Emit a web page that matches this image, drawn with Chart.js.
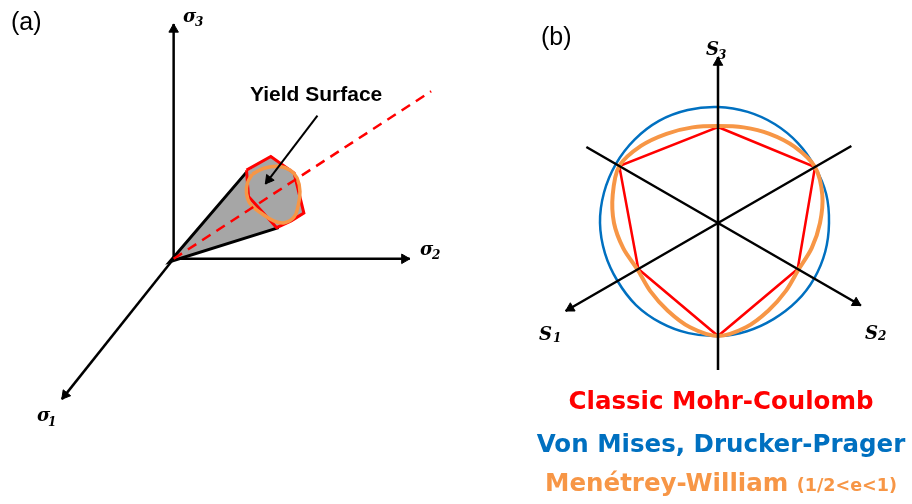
<!DOCTYPE html>
<html>
<head>
<meta charset="utf-8">
<script src="https://cdn.jsdelivr.net/npm/chart.js@4.4.0/dist/chart.umd.min.js"></script>
<style>
  html, body { margin: 0; padding: 0; background: #fff; width: 912px; height: 504px; overflow: hidden; }
  #wrap { position: relative; width: 912px; height: 504px; }
  canvas { position: absolute; }
  #stressSpace { left: 0; top: 0; }
  #deviatoric { left: 528px; top: 33px; }
  .t { position: absolute; white-space: nowrap; line-height: 1; }
  .panel { font: 25px "Liberation Sans", Arial, sans-serif; color: #000; }
  .sym { font: italic bold 18px "DejaVu Serif", serif; color: #000; }
  .sub { font: italic bold 12px "DejaVu Serif", serif; color: #000; }
  .callout { font: bold 21px "Liberation Sans", Arial, sans-serif; color: #000; }
  .legend { left: 521px; width: 400px; text-align: center; font: bold 24.5px "DejaVu Sans", sans-serif; }
  .legend small { font-size: 17.5px; }
</style>
</head>
<body>
<div id="wrap">
  <canvas id="stressSpace" width="460" height="504"></canvas>
  <canvas id="deviatoric" width="380" height="380"></canvas>

  <div class="t panel" style="left:11px; top:7px;">(a)</div>
  <div class="t panel" style="left:541px; top:22px;">(b)</div>

  <div class="t sym" style="left:183px; top:5px;">σ</div><div class="t sub" style="left:195px; top:15px;">3</div>
  <div class="t sym" style="left:420px; top:238px;">σ</div><div class="t sub" style="left:432px; top:248px;">2</div>
  <div class="t sym" style="left:37px; top:404px;">σ</div><div class="t sub" style="left:48px; top:415px;">1</div>
  <div class="t callout" style="left:250px; top:82px;">Yield Surface</div>

  <div class="t sym" style="left:706px; top:38px;">S</div><div class="t sub" style="left:718px; top:48px;">3</div>
  <div class="t sym" style="left:865px; top:322px;">S</div><div class="t sub" style="left:878px; top:329px;">2</div>
  <div class="t sym" style="left:539px; top:323px;">S</div><div class="t sub" style="left:553px; top:331px;">1</div>

  <div class="t legend" style="top:386px; color:#ff0000;">Classic Mohr-Coulomb</div>
  <div class="t legend" style="top:429px; color:#0070c0;">Von Mises, Drucker-Prager</div>
  <div class="t legend" style="top:468px; color:#f79646;">Menétrey-William <small>(1/2&lt;e&lt;1)</small></div>
</div>

<script>
// ---- (a) principal stress space, drawn in the page plane (origin at the axes' crossing, y up) ----
const ORIGIN = [0, 0];
const SIGMA1_TIP = [-115, -144];
const SIGMA2_TIP = [243, 0];
const SIGMA3_TIP = [0, 241];
const HYDROSTATIC_AXIS = [[0, 0], [265, 172]];
const CONE_EDGES = [[75, 89], [-4, -3], [108, 32]];
const CONE_OUTLINE = [[-4, -3], [75, 89], [100, 105], [124, 88], [134, 47], [121, 39], [106, 32], [-4, -3]];
const MC_SECTION = [[75, 91], [100, 105], [124, 88], [134, 47], [121, 39], [106, 32], [77, 64], [75, 91]];
const MW_SECTION = [[81, 87], [93, 93], [108, 95], [120, 91], [127, 83], [130, 69], [128, 54], [124, 43],
                    [114, 37], [103, 39], [90, 47], [79, 56], [75, 67], [76, 78], [81, 87]];
const POINTER = [[148, 147], [94.5, 77]];

// ---- (b) deviatoric plane: radius per direction, clockwise from S3 in 15° steps ----
const DIRECTION_DEG = [0, 15, 30, 45, 60, 75, 90, 105, 120, 135, 150, 165,
                       180, 195, 210, 225, 240, 255, 270, 285, 300, 315, 330, 345];
const MOHR_COULOMB = [96, null, null, null, 112, null, null, null, 92, null, null, null,
                      113, null, null, null, 92, null, null, null, 114, null, null, null];
const VON_MISES = [116, 115, 114, 113, 112, 112, 111, 111, 111, 111, 111, 112,
                   113, 114, 115, 116, 116, 117, 118, 118, 118, 118, 118, 117];
const MENETREY_WILLAM = [97, 99, 103, 108, 112, 108, 102, 97, 93, 96, 101, 108,
                         113, 108, 101, 96, 93, 98, 104, 109, 114, 109, 103, 99];
// spoke lengths, clockwise from top: S3, -S1, S2, -S3, S1, -S2
const AXIS_SPOKES = [166, 154, 165, 147, 176, 152];
const ARROWED_SPOKES = [0, 2, 4];

const BLACK = '#000000', RED = '#ff0000', BLUE = '#0070c0', ORANGE = '#f79646', GREY = '#a6a6a6';
const HEAD = 5.5;

const xy = p => ({x: p[0], y: p[1]});

// triangle head whose tip sits on the end of the segment
function head(from, to) {
  const dx = to[0] - from[0], dy = to[1] - from[1], len = Math.hypot(dx, dy);
  return {x: to[0] - dx / len * HEAD, y: to[1] - dy / len * HEAD, rot: Math.atan2(dx, dy) * 180 / Math.PI};
}

const heads = [head(ORIGIN, SIGMA1_TIP), head(ORIGIN, SIGMA2_TIP), head(ORIGIN, SIGMA3_TIP), head(POINTER[0], POINTER[1])];

const line = (points, color, width, order, extra) => Object.assign({
  data: points.map(xy), showLine: true, borderColor: color, borderWidth: width,
  pointRadius: 0, order: order, clip: false, fill: false
}, extra || {});

new Chart(document.getElementById('stressSpace'), {
  type: 'scatter',
  data: {
    datasets: [
      line(POINTER, BLACK, 2, 0),
      Object.assign(line([], BLACK, 1, 0), {
        data: heads.map(h => ({x: h.x, y: h.y})), showLine: false,
        pointStyle: 'triangle', pointRadius: HEAD, pointBackgroundColor: BLACK,
        pointBorderColor: BLACK, pointBorderWidth: 1, pointRotation: heads.map(h => h.rot)
      }),
      line(HYDROSTATIC_AXIS, RED, 2.5, 1, {borderDash: [10, 7]}),
      line(MW_SECTION, ORANGE, 3.5, 2, {tension: 0.4}),
      line(MC_SECTION, RED, 3, 3),
      line(CONE_EDGES, BLACK, 3, 4),
      line(CONE_OUTLINE, GREY, 0, 5, {fill: 'shape', backgroundColor: GREY}),
      line([ORIGIN, SIGMA1_TIP], BLACK, 2.5, 6),
      line([ORIGIN, SIGMA2_TIP], BLACK, 2.5, 6),
      line([ORIGIN, SIGMA3_TIP], BLACK, 2.5, 6)
    ]
  },
  options: {
    responsive: false, animation: false, events: [],
    layout: {padding: 0},
    scales: {
      x: {type: 'linear', min: -172, max: 288, display: false},
      y: {type: 'linear', min: -245, max: 259, display: false}
    },
    plugins: {legend: {display: false}, tooltip: {enabled: false}}
  }
});

// spokes: each runs from its tip to the centre (a zero radius on the next direction)
const spokeData = DIRECTION_DEG.map(() => null);
AXIS_SPOKES.forEach((len, k) => { spokeData[k * 4] = len; spokeData[k * 4 + 1] = 0; });
const arrowData = DIRECTION_DEG.map(() => null);
ARROWED_SPOKES.forEach(k => { arrowData[k * 4] = AXIS_SPOKES[k] - HEAD; });

new Chart(document.getElementById('deviatoric'), {
  type: 'radar',
  data: {
    labels: DIRECTION_DEG.map(d => d + '°'),
    datasets: [
      {label: 'axes', data: spokeData, borderColor: BLACK, borderWidth: 2.5, pointRadius: 0, tension: 0, order: 0, fill: false},
      {label: 'arrows', data: arrowData, showLine: false, pointStyle: 'triangle', pointRadius: HEAD,
       pointBackgroundColor: BLACK, pointBorderColor: BLACK, pointBorderWidth: 1,
       pointRotation: ctx => DIRECTION_DEG[ctx.dataIndex], order: 0},
      {label: 'Menétrey-William', data: MENETREY_WILLAM, borderColor: ORANGE, borderWidth: 4, pointRadius: 0, tension: 0.3, order: 1, fill: false},
      {label: 'Classic Mohr-Coulomb', data: MOHR_COULOMB, borderColor: RED, borderWidth: 2.5, pointRadius: 0, spanGaps: true, tension: 0, order: 2, fill: false},
      {label: 'Von Mises, Drucker-Prager', data: VON_MISES, borderColor: BLUE, borderWidth: 2.5, pointRadius: 0, tension: 0.34, order: 3, fill: false}
    ]
  },
  options: {
    responsive: false, animation: false, events: [],
    layout: {padding: 0},
    scales: {
      r: {
        min: 0, max: 190,
        ticks: {display: false},
        grid: {display: false},
        angleLines: {display: false},
        pointLabels: {display: false}
      }
    },
    plugins: {legend: {display: false}, tooltip: {enabled: false}}
  }
});
</script>
</body>
</html>
